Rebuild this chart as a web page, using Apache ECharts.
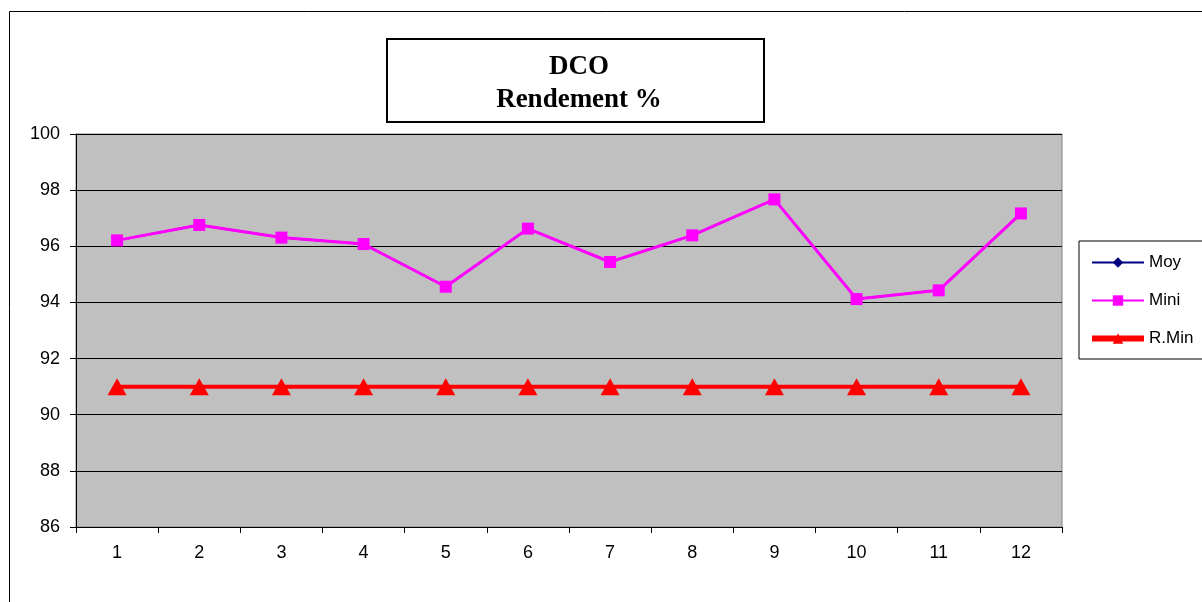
<!DOCTYPE html>
<html>
<head>
<meta charset="utf-8">
<script src="https://cdn.jsdelivr.net/npm/echarts@6/dist/echarts.min.js"></script>
<style>
  html, body { margin: 0; padding: 0; background: #fff; }
  #main { width: 1202px; height: 602px; }
</style>
</head>
<body>
<div id="main"></div>
<script>
var categories = ['1', '2', '3', '4', '5', '6', '7', '8', '9', '10', '11', '12'];
var moy = [96.21, 96.76, 96.31, 96.08, 94.56, 96.63, 95.44, 96.39, 97.67, 94.12, 94.43, 97.17];
var mini = [96.21, 96.76, 96.31, 96.08, 94.56, 96.63, 95.44, 96.39, 97.67, 94.12, 94.43, 97.17];
var rMin = [91, 91, 91, 91, 91, 91, 91, 91, 91, 91, 91, 91];

var chart = echarts.init(document.getElementById('main'));

var option = {
  animation: false,
  textStyle: { fontFamily: 'Liberation Sans, Arial, sans-serif' },
  graphic: [
    // outer chart frame
    { type: 'rect', shape: { x: 9.5, y: 11.5, width: 1300, height: 700 },
      style: { fill: 'none', stroke: '#000', lineWidth: 1 }, z: 0 },
    // title box
    { type: 'rect', shape: { x: 387, y: 39, width: 377, height: 83 },
      style: { fill: '#fff', stroke: '#000', lineWidth: 2 }, z: 1 }
  ],
  title: {
    text: 'DCO\nRendement %',
    left: 574,
    top: 46,
    textAlign: 'center',
    textStyle: {
      fontFamily: 'Liberation Serif, Times New Roman, serif',
      fontWeight: 'bold',
      fontSize: 27,
      lineHeight: 33,
      color: '#000'
    },
    z: 5
  },
  legend: {
    orient: 'vertical',
    left: 1079,
    top: 241,
    padding: [13, 40, 12, 10],
    itemGap: 21,
    itemWidth: 52,
    itemHeight: 13,
    borderColor: '#000',
    borderWidth: 1,
    backgroundColor: '#fff',
    textStyle: { fontSize: 17, color: '#000' },
    data: [
      { name: 'Moy', lineStyle: { width: 2 } },
      { name: 'Mini', lineStyle: { width: 2 } },
      { name: 'R.Min', lineStyle: { width: 6 } }
    ]
  },
  grid: {
    left: 76,
    top: 134,
    width: 986,
    height: 393,
    show: true,
    backgroundColor: '#C0C0C0',
    borderColor: '#808080',
    borderWidth: 1
  },
  xAxis: {
    type: 'category',
    data: categories,
    boundaryGap: true,
    axisLine: { lineStyle: { color: '#000', width: 1 } },
    axisTick: { show: true, inside: false, length: 6, lineStyle: { color: '#000' } },
    axisLabel: { fontSize: 18, color: '#000', margin: 17 },
    splitLine: { show: false }
  },
  yAxis: {
    type: 'value',
    min: 86,
    max: 100,
    interval: 2,
    axisLine: { show: true, lineStyle: { color: '#000', width: 1 } },
    axisTick: { show: true, inside: false, length: 6, lineStyle: { color: '#000' } },
    axisLabel: { fontSize: 18, color: '#000', margin: 16 },
    splitLine: { show: true, lineStyle: { color: '#000', width: 1 } }
  },
  series: [
    {
      name: 'Moy',
      type: 'line',
      data: moy,
      symbol: 'diamond',
      symbolSize: 10,
      itemStyle: { color: '#000080' },
      lineStyle: { color: '#000080', width: 2 },
      z: 2
    },
    {
      name: 'Mini',
      type: 'line',
      data: mini,
      symbol: 'rect',
      symbolSize: 12,
      itemStyle: { color: '#FF00FF' },
      lineStyle: { color: '#FF00FF', width: 3 },
      z: 3
    },
    {
      name: 'R.Min',
      type: 'line',
      data: rMin,
      symbol: 'triangle',
      symbolSize: [19, 17],
      itemStyle: { color: '#FF0000' },
      lineStyle: { color: '#FF0000', width: 4 },
      z: 4
    }
  ]
};

chart.setOption(option);
</script>
</body>
</html>
